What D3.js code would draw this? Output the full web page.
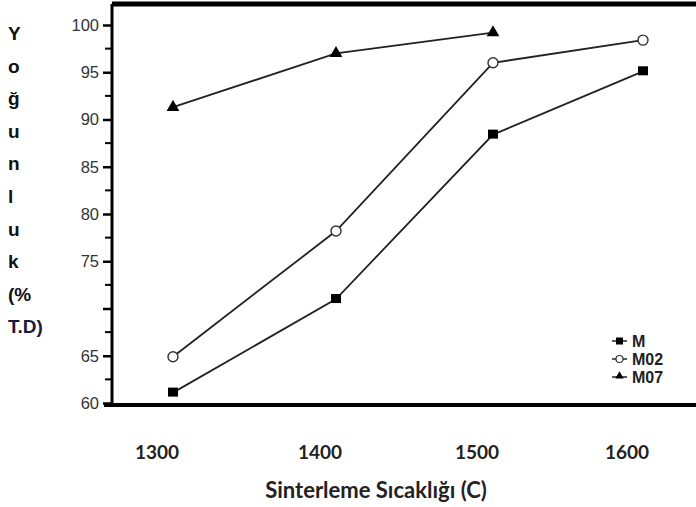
<!DOCTYPE html>
<html>
<head>
<meta charset="utf-8">
<script src="https://cdn.jsdelivr.net/npm/d3@7"></script>
<style>
  body { margin: 0; background: #fff; }
  svg { display: block; }
</style>
</head>
<body>
<div id="chart"></div>
<script>
// ------------------------------
// Data
// ------------------------------
const temps = [1300, 1400, 1500, 1600];
const seriesM = [61.1, 71.0, 88.4, 95.1];
const seriesM02 = [64.9, 78.2, 96.0, 98.4];
const seriesM07 = [91.3, 97.0, 99.2];
const yTicks = [60, 65, 70, 75, 80, 85, 90, 95, 100];
const yTickLabels = ["60", "65", "", "75", "80", "85", "90", "95", "100"];
const yLabelLetters = ["Y", "o", "ğ", "u", "n", "l", "u", "k", "(%", "T.D)"];
const seriesNames = ["M", "M02", "M07"];

// ------------------------------
// Layout
// ------------------------------
const width = 696;
const height = 507;
const frame = { left: 112, right: 700, top: 4, bottom: 405 };
const font = "'Liberation Sans', Arial, sans-serif";

const svg = d3.select("#chart").append("svg").attr("width", width).attr("height", height);

// x: the source's temperature spacing is uneven, so map each category on its own
const x = d3.scaleLinear().domain(temps).range([173, 336, 493, 643]);
const y = d3.scaleLinear().domain([60, 100]).range([403, 25]);

// Frame: thick top and bottom borders
svg.append("line")
  .attr("x1", frame.left).attr("x2", frame.right)
  .attr("y1", frame.top).attr("y2", frame.top)
  .attr("stroke", "#000").attr("stroke-width", 5);
svg.append("line")
  .attr("x1", frame.left - 8).attr("x2", frame.right)
  .attr("y1", frame.bottom).attr("y2", frame.bottom)
  .attr("stroke", "#000").attr("stroke-width", 4);

// Y axis labels, major ticks and minor ticks
const yAxis = svg.append("g")
  .attr("transform", `translate(${frame.left},0)`)
  .call(d3.axisLeft(y).tickValues(yTicks).tickSize(9).tickPadding(4)
    .tickFormat((d, i) => yTickLabels[i]));
yAxis.select(".domain").remove();
yAxis.selectAll(".tick line").attr("stroke", "#000").attr("stroke-width", 2.5);
yAxis.selectAll("text")
  .attr("font-family", font)
  .attr("font-size", 16.5).attr("fill", "#333");

const minor = d3.range(62.5, 100, 5);
svg.append("g").selectAll("line")
  .data(minor)
  .join("line")
  .attr("x1", frame.left - 7).attr("x2", frame.left)
  .attr("y1", (d) => y(d)).attr("y2", (d) => y(d))
  .attr("stroke", "#000").attr("stroke-width", 2);

svg.append("line")
  .attr("x1", frame.left).attr("x2", frame.left)
  .attr("y1", frame.top).attr("y2", frame.bottom + 2)
  .attr("stroke", "#000").attr("stroke-width", 3);

// Vertical y label, one letter per row
svg.append("g").selectAll("text")
  .data(yLabelLetters)
  .join("text")
  .attr("x", 8)
  .attr("y", (d, i) => 40 + i * 32.6)
  .attr("font-family", font)
  .attr("font-weight", "bold")
  .attr("font-size", 19)
  .attr("fill", (d, i) => (i === yLabelLetters.length - 1 ? "#1a1a3a" : "#111"))
  .text((d) => d);

// X tick labels (sit a little left of the data points in the source)
svg.append("g").selectAll("text")
  .data(temps)
  .join("text")
  .attr("x", (d) => x(d) - 16)
  .attr("y", 459)
  .attr("text-anchor", "middle")
  .attr("font-family", "Lato, sans-serif")
  .attr("font-weight", "bold")
  .attr("font-size", 19)
  .attr("fill", "#222")
  .text((d) => d);

svg.append("text")
  .attr("x", 376)
  .attr("y", 498)
  .attr("text-anchor", "middle")
  .attr("font-family", "Lato, sans-serif")
  .attr("font-weight", "bold")
  .attr("font-size", 22)
  .attr("fill", "#222")
  .text("Sinterleme Sıcaklığı (C)");

// ------------------------------
// Series
// ------------------------------
const line = d3.line().x((d) => x(d[0])).y((d) => y(d[1]));
const allSeries = [seriesM, seriesM02, seriesM07].map((vals) => vals.map((v, i) => [temps[i], v]));

svg.append("g").selectAll("path")
  .data(allSeries)
  .join("path")
  .attr("d", line)
  .attr("fill", "none")
  .attr("stroke", "#222")
  .attr("stroke-width", 1.8);

function drawMarker(g, kind, cx, cy) {
  if (kind === 0) {
    g.append("rect").attr("x", cx - 5).attr("y", cy - 5).attr("width", 10).attr("height", 9).attr("fill", "#000");
  } else if (kind === 1) {
    g.append("circle").attr("cx", cx).attr("cy", cy).attr("r", 5)
      .attr("fill", "#fff").attr("stroke", "#333").attr("stroke-width", 1.4);
  } else {
    g.append("path").attr("d", d3.symbol(d3.symbolTriangle, 70)()).attr("transform", `translate(${cx},${cy})`).attr("fill", "#000");
  }
}

const markers = svg.append("g");
allSeries.forEach((pts, k) => {
  pts.forEach((p) => drawMarker(markers, k, x(p[0]), y(p[1])));
});

// ------------------------------
// Legend
// ------------------------------
const legend = svg.append("g");
seriesNames.forEach((name, k) => {
  const ly = 341 + k * 18;
  legend.append("line").attr("x1", 612).attr("x2", 627).attr("y1", ly).attr("y2", ly)
    .attr("stroke", "#222").attr("stroke-width", 1.5);
  const g = legend.append("g");
  if (k === 0) {
    g.append("rect").attr("x", 616).attr("y", ly - 3.5).attr("width", 7).attr("height", 7).attr("fill", "#000");
  } else if (k === 1) {
    g.append("circle").attr("cx", 619.5).attr("cy", ly).attr("r", 3.5)
      .attr("fill", "#fff").attr("stroke", "#333").attr("stroke-width", 1.2);
  } else {
    g.append("path").attr("d", d3.symbol(d3.symbolTriangle, 30)()).attr("transform", `translate(619.5,${ly - 1})`).attr("fill", "#000");
  }
  legend.append("text")
    .attr("x", 632).attr("y", ly + 6)
    .attr("font-family", font)
    .attr("font-weight", "bold")
    .attr("font-size", 16)
    .attr("fill", "#222")
    .text(name);
});
</script>
</body>
</html>
